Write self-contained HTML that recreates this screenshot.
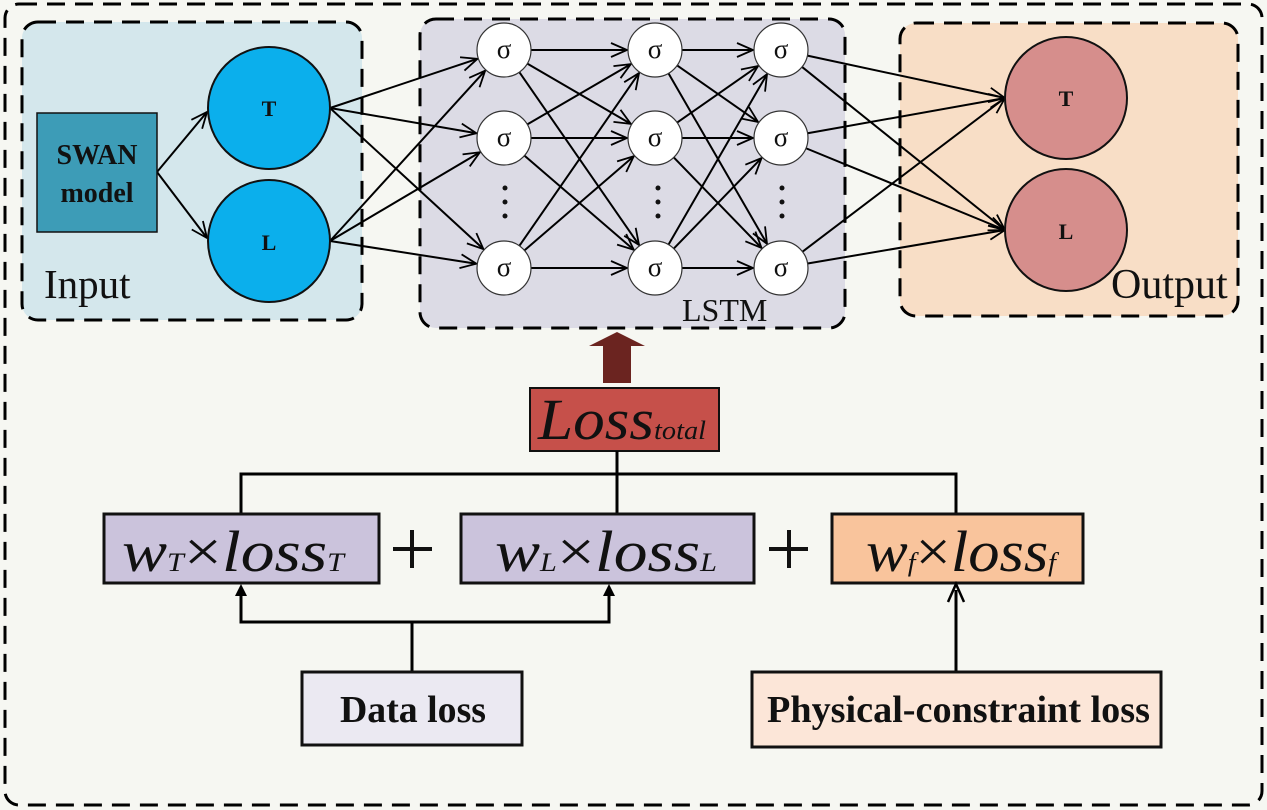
<!DOCTYPE html>
<html><head><meta charset="utf-8"><style>
html,body{margin:0;padding:0;background:#f6f7f2;}
svg{display:block}
.it{font-family:"Liberation Serif",serif;font-style:italic;fill:#111}
.b{font-family:"Liberation Serif",serif;font-weight:bold;fill:#111}
.r{font-family:"Liberation Serif",serif;fill:#111}
</style></head><body>
<svg id="s" width="1267" height="810" viewBox="0 0 1267 810" xmlns="http://www.w3.org/2000/svg">
<defs>
<marker id="a" markerUnits="userSpaceOnUse" markerWidth="20" markerHeight="20" refX="17" refY="10" orient="auto">
<polyline points="1,3 17,10 1,17" fill="none" stroke="#000" stroke-width="1.8"/>
</marker>
</defs>
<rect width="1267" height="810" fill="#f6f7f2"/>
<rect x="5" y="4" width="1257" height="801" rx="14" fill="none" stroke="#000" stroke-width="3" stroke-dasharray="18,10"/>
<rect x="22" y="22" width="340" height="298" rx="16" fill="#d4e7ec" stroke="#000" stroke-width="3" stroke-dasharray="18,10"/>
<rect x="420" y="19" width="425" height="309" rx="16" fill="#dcdbe5" stroke="#000" stroke-width="3" stroke-dasharray="18,10"/>
<rect x="900" y="23" width="338" height="293" rx="16" fill="#f8dec6" stroke="#000" stroke-width="3" stroke-dasharray="18,10"/>
<g id="lines" stroke="#000" stroke-width="2" fill="none"></g>
<rect x="37" y="113" width="120" height="119" fill="#3d9cb7" stroke="#111" stroke-width="1.5"/>
<text x="97" y="164" class="b" font-size="28" text-anchor="middle">SWAN</text>
<text x="97" y="202" class="b" font-size="28" text-anchor="middle">model</text>
<circle cx="269" cy="108" r="61" fill="#0bafec" stroke="#111" stroke-width="2"/>
<circle cx="269" cy="241" r="61" fill="#0bafec" stroke="#111" stroke-width="2"/>
<text x="269" y="116" class="b" font-size="22" text-anchor="middle">T</text>
<text x="269" y="250" class="b" font-size="22" text-anchor="middle">L</text>
<text x="44" y="298" class="r" font-size="41">Input</text>
<g id="nodes"></g>
<g fill="#111">
<circle cx="505" cy="188" r="2.5"/><circle cx="505" cy="202" r="2.5"/><circle cx="505" cy="216" r="2.5"/>
<circle cx="658" cy="188" r="2.5"/><circle cx="658" cy="202" r="2.5"/><circle cx="658" cy="216" r="2.5"/>
<circle cx="782" cy="188" r="2.5"/><circle cx="782" cy="202" r="2.5"/><circle cx="782" cy="216" r="2.5"/>
</g>
<text x="682" y="321" class="r" font-size="32">LSTM</text>
<circle cx="1066" cy="98" r="61" fill="#d68e8c" stroke="#111" stroke-width="2"/>
<circle cx="1066" cy="230" r="61" fill="#d68e8c" stroke="#111" stroke-width="2"/>
<text x="1066" y="106" class="b" font-size="22" text-anchor="middle">T</text>
<text x="1066" y="239" class="b" font-size="22" text-anchor="middle">L</text>
<text x="1111" y="298" class="r" font-size="42">Output</text>
<polygon points="603,383 631,383 631,346 645,346 617,332 589,346 603,346" fill="#6b2420"/>
<rect x="530" y="388" width="189" height="63" fill="#c6504a" stroke="#111" stroke-width="2"/>
<text x="538" y="439" class="it" font-size="58" textLength="168" lengthAdjust="spacingAndGlyphs">Loss<tspan font-size="26">total</tspan></text>
<g stroke="#000" stroke-width="3" fill="none">
<line x1="617" y1="451" x2="617" y2="514"/>
<polyline points="241,514 241,474 956,474 956,514"/>
</g>
<rect x="104" y="514" width="275" height="69" fill="#cbc3dc" stroke="#111" stroke-width="3"/>
<rect x="461" y="514" width="293" height="69" fill="#cbc3dc" stroke="#111" stroke-width="3"/>
<rect x="832" y="514" width="251" height="69" fill="#f9c49c" stroke="#111" stroke-width="3"/>
<text x="122" y="571" class="it" font-size="58" textLength="222" lengthAdjust="spacingAndGlyphs">w<tspan font-size="26">T</tspan><tspan font-style="normal">×</tspan>loss<tspan font-size="26">T</tspan></text>
<text x="495" y="571" class="it" font-size="58" textLength="222" lengthAdjust="spacingAndGlyphs">w<tspan font-size="26">L</tspan><tspan font-style="normal">×</tspan>loss<tspan font-size="26">L</tspan></text>
<text x="866" y="571" class="it" font-size="58" textLength="190" lengthAdjust="spacingAndGlyphs">w<tspan font-size="26">f</tspan><tspan font-style="normal">×</tspan>loss<tspan font-size="26">f</tspan></text>
<g stroke="#111" stroke-width="4">
<line x1="393" y1="549" x2="432" y2="549"/><line x1="412" y1="530" x2="412" y2="568"/>
<line x1="769" y1="549" x2="808" y2="549"/><line x1="789" y1="530" x2="789" y2="568"/>
</g>
<g stroke="#000" stroke-width="3" fill="none">
<polyline points="412,672 412,622"/>
<polyline points="241,595 241,622 609,622 609,595"/>
<line x1="956" y1="672" x2="956" y2="590"/>
</g>
<polygon points="235,596 241,584 247,596" fill="#000"/>
<polygon points="603,596 609,584 615,596" fill="#000"/>
<polyline points="948,602 956,584 964,602" fill="none" stroke="#000" stroke-width="2.5"/>
<rect x="302" y="672" width="220" height="73" fill="#ebe9f2" stroke="#111" stroke-width="3"/>
<rect x="752" y="672" width="409" height="75" fill="#fce6d8" stroke="#111" stroke-width="3"/>
<text x="340" y="722" class="b" font-size="38" textLength="146" lengthAdjust="spacingAndGlyphs">Data loss</text>
<text x="767" y="722" class="b" font-size="38" textLength="383" lengthAdjust="spacingAndGlyphs">Physical-constraint loss</text>
</svg>
<script>
var NS="http://www.w3.org/2000/svg";
var cols=[504,655,781],rows=[50,138,268],r=27;
var L=document.getElementById("lines"),N=document.getElementById("nodes");
function ln(x1,y1,r1,x2,y2,r2){var dx=x2-x1,dy=y2-y1,d=Math.sqrt(dx*dx+dy*dy);
var e=document.createElementNS(NS,"line");
e.setAttribute("x1",x1+dx/d*r1);e.setAttribute("y1",y1+dy/d*r1);
e.setAttribute("x2",x2-dx/d*r2);e.setAttribute("y2",y2-dy/d*r2);
e.setAttribute("marker-end","url(#a)");L.appendChild(e);}
function plain(x1,y1,x2,y2){var e=document.createElementNS(NS,"line");e.setAttribute("x1",x1);e.setAttribute("y1",y1);e.setAttribute("x2",x2);e.setAttribute("y2",y2);e.setAttribute("marker-end","url(#a)");L.appendChild(e);}
plain(157,172,207,112);plain(157,172,207,238);
[[269,108],[269,241]].forEach(function(p){rows.forEach(function(y){ln(p[0]+61,p[1],0,cols[0],y,r+1);});});
for(var c=0;c<2;c++)rows.forEach(function(y1){rows.forEach(function(y2){ln(cols[c],y1,r,cols[c+1],y2,r+1);});});
rows.forEach(function(y){[[1066,98],[1066,230]].forEach(function(p){ln(cols[2],y,r,p[0]-61,p[1],0);});});
rows.forEach(function(y){cols.forEach(function(x){var c=document.createElementNS(NS,"circle");c.setAttribute("cx",x);c.setAttribute("cy",y);c.setAttribute("r",r);c.setAttribute("fill","#fff");c.setAttribute("stroke","#333");c.setAttribute("stroke-width","1.2");N.appendChild(c);});});
</script>
<style>#sig text{font-family:"Liberation Serif",serif}</style>
<svg style="position:absolute;left:0;top:0" width="1267" height="810" id="sig">
<g font-size="27" text-anchor="middle" fill="#111">
<text x="504" y="58">σ</text><text x="655" y="58">σ</text><text x="781" y="58">σ</text>
<text x="504" y="146">σ</text><text x="655" y="146">σ</text><text x="781" y="146">σ</text>
<text x="504" y="276">σ</text><text x="655" y="276">σ</text><text x="781" y="276">σ</text>
</g>
</svg>
</body></html>
